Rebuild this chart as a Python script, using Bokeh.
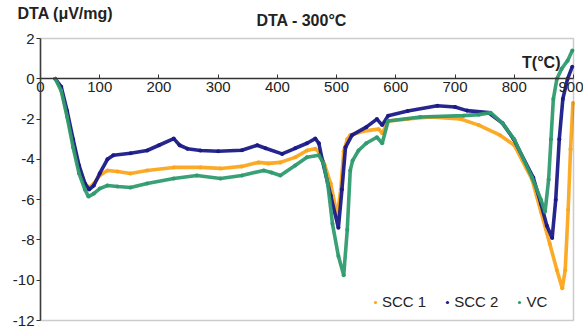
from bokeh.plotting import figure
from bokeh.models import (Label, Legend, LegendItem, ColumnDataSource, FixedTicker, Range1d,
                          BoxAnnotation)
from bokeh.embed import file_html
from bokeh.resources import INLINE

# ---- data ----
scc1_t = [25, 35, 45, 55, 65, 75, 82, 90, 100, 113, 130, 152, 180, 225, 270, 304, 340, 368, 385,
          405, 430, 450, 464, 472, 480, 490, 501, 507, 512, 518, 523, 545, 571, 577, 587, 620, 658,
          709, 740, 776, 800, 830, 845, 860, 872, 881, 886, 891, 895, 899]
scc1_v = [0, -0.5, -1.8, -3.2, -4.4, -5.2, -5.4, -5.2, -4.8, -4.55, -4.6, -4.7, -4.55, -4.4, -4.4,
          -4.45, -4.35, -4.15, -4.2, -4.15, -3.9, -3.56, -3.47, -3.7, -4.3, -5.2, -6.8, -5.5, -3.6,
          -3.0, -2.8, -2.6, -2.5, -2.7, -2.1, -2.0, -1.9, -2.0, -2.3, -2.8, -3.3, -5.0, -6.6, -8.2,
          -9.5, -10.4, -9.5, -6.5, -3.5, -1.2]

scc2_t = [25, 35, 45, 55, 65, 75, 82, 90, 100, 113, 123, 152, 180, 200, 225, 235, 248, 270, 300,
          340, 366, 380, 408, 430, 450, 464, 470, 476, 490, 503, 509, 515, 526, 550, 568, 577, 587,
          620, 670, 700, 720, 756, 780, 799, 832, 845, 855, 864, 870, 876, 882, 890, 898]
scc2_v = [0, -0.4, -1.6, -3.0, -4.3, -5.2, -5.5, -5.3, -4.7, -4.0, -3.8, -3.7, -3.56, -3.3, -2.97,
          -3.3, -3.47, -3.56, -3.6, -3.55, -3.3, -3.45, -3.73, -3.45, -3.2, -2.97, -3.2, -4.06, -5.8,
          -7.4, -5.5, -3.4, -2.8, -2.4, -2.0, -2.3, -1.83, -1.6, -1.34, -1.4, -1.58, -1.68, -2.2,
          -3.0, -4.9, -6.2, -7.3, -7.9, -6.0, -3.0, -1.0, 0.0, 0.6]

vc_t = [25, 35, 45, 55, 65, 75, 81, 90, 100, 113, 130, 152, 180, 225, 264, 304, 340, 377, 390, 405,
        430, 450, 470, 478, 485, 493, 503, 512, 518, 523, 527, 537, 550, 568, 577, 587, 641, 714,
        740, 760, 780, 800, 830, 845, 852, 858, 862, 866, 872, 880, 890, 898]
vc_v = [0, -0.6, -1.9, -3.4, -4.7, -5.5, -5.85, -5.7, -5.45, -5.3, -5.35, -5.4, -5.2, -4.95, -4.8,
        -4.95, -4.8, -4.55, -4.65, -4.8, -4.3, -3.9, -3.8, -4.2, -5.2, -7.2, -8.8, -9.75, -7.5,
        -4.55, -4.06, -3.56, -3.2, -2.9, -3.2, -2.1, -1.9, -1.83, -1.78, -1.68, -2.2, -3.0, -4.9,
        -6.0, -6.6, -5.0, -3.0, -1.0, 0.0, 0.5, 0.9, 1.4]

series_names = ["SCC 1", "SCC 2", "VC"]
series_colors = ["#FBA61C", "#1A1A88", "#2F9B6E"]

x_ticks = [0, 100, 200, 300, 400, 500, 600, 700, 800, 900]
y_ticks = [-12, -10, -8, -6, -4, -2, 0, 2]
y_tick_labels = ["-12", "-10", "-8", "-6", "-4", "-2", "0", "2"]
x_min, x_max = 0, 900
y_min, y_max = -12, 2

title_text = "DTA - 300°C"
ylabel_text = "DTA (\u03bcV/mg)"
xlabel_text = "T(°C)"

FONT = "Liberation Sans"

# The frame covers the whole canvas; axes sit at fixed data positions inside it.
PX_X = 533 / (x_max - x_min)          # pixels per degree
PX_Y = 282 / (y_max - y_min)          # pixels per unit
x_range = Range1d(x_min - 40 / PX_X, x_max + 10 / PX_X)
y_range = Range1d(y_min - 7 / PX_Y, y_max + 38 / PX_Y)

p = figure(width=583, height=327, x_range=x_range, y_range=y_range,
           output_backend="svg", toolbar_location=None,
           min_border_left=0, min_border_right=0, min_border_top=0, min_border_bottom=0)
p.grid.visible = False
p.background_fill_color = "white"
p.border_fill_color = "white"
p.outline_line_color = None

# plot box
p.add_layout(BoxAnnotation(left=x_min, right=x_max, bottom=y_min, top=y_max,
                           fill_alpha=0, line_color="#555555", line_width=1.5))

# x axis crossing at y = 0
xa = p.xaxis[0]
xa.fixed_location = 0
xa.bounds = (x_min, x_max)
xa.ticker = FixedTicker(ticks=x_ticks)
xa.axis_line_color = "#333333"
xa.axis_line_width = 1.3
xa.major_tick_in = 4
xa.major_tick_out = 0
xa.major_tick_line_color = "#333333"
xa.minor_tick_line_color = None
xa.major_label_text_font = FONT
xa.major_label_text_font_size = "15px"
xa.major_label_text_color = "#222222"
xa.major_label_standoff = 3

# y axis on the left edge of the box
ya = p.yaxis[0]
ya.fixed_location = x_min
ya.bounds = (y_min, y_max)
ya.ticker = FixedTicker(ticks=y_ticks)
ya.major_label_overrides = {t: s for t, s in zip(y_ticks, y_tick_labels)}
ya.axis_line_color = "#333333"
ya.axis_line_width = 1.5
ya.major_tick_in = 0
ya.major_tick_out = 4
ya.major_tick_line_color = "#333333"
ya.minor_tick_line_color = None
ya.major_label_text_font = FONT
ya.major_label_text_font_size = "15px"
ya.major_label_text_color = "#222222"
ya.major_label_standoff = 2

all_t = [scc1_t, scc2_t, vc_t]
all_v = [scc1_v, scc2_v, vc_v]
items = []
for name, col, t, v in zip(series_names, series_colors, all_t, all_v):
    src = ColumnDataSource(dict(x=t, y=v))
    p.line("x", "y", source=src, line_color=col, line_width=3.6, line_alpha=0.95)
    dot = p.scatter("x", "y", source=src, marker="circle", size=4, fill_color=col,
                    line_color=col, line_width=0)
    items.append(LegendItem(label=name, renderers=[dot]))

legend = Legend(items=items, orientation="horizontal", location=(371, 17),
                label_text_font=FONT, label_text_font_size="15px", label_text_color="#222222",
                glyph_width=8, glyph_height=10, label_standoff=3, spacing=17, padding=2,
                margin=0, border_line_color=None, background_fill_alpha=0)
p.add_layout(legend, "center")

# texts (positions in data units of the chart)
p.add_layout(Label(x=-38.8, y=3.23, text=ylabel_text, text_font=FONT, text_font_size="16px",
                   text_font_style="bold", text_color="#222222", text_baseline="middle",
                   text_align="left"))
p.add_layout(Label(x=441, y=2.88, text=title_text, text_font=FONT, text_font_size="16px",
                   text_font_style="bold", text_color="#222222", text_baseline="middle",
                   text_align="center"))
p.add_layout(Label(x=878, y=0.79, text=xlabel_text, text_font=FONT, text_font_size="16px",
                   text_font_style="bold", text_color="#222222", text_baseline="middle",
                   text_align="right"))

open("out.html", "w").write(file_html(p, INLINE))
